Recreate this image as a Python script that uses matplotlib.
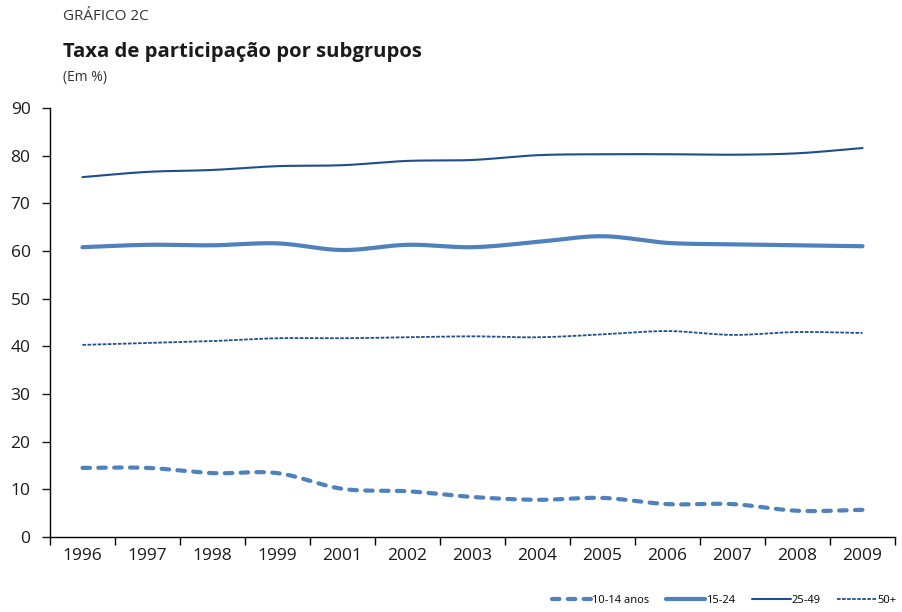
import numpy as np
import matplotlib
matplotlib.use("Agg")
import matplotlib.pyplot as plt
from matplotlib.lines import Line2D

plt.rcParams['font.family'] = ['Open Sans', 'DejaVu Sans']

years = ["1996", "1997", "1998", "1999", "2001", "2002", "2003",
         "2004", "2005", "2006", "2007", "2008", "2009"]
s_10_14 = [14.5, 14.5, 13.4, 13.4, 10.1, 9.6, 8.4, 7.8, 8.2, 6.9, 6.9, 5.5, 5.7]
s_15_24 = [60.8, 61.3, 61.2, 61.6, 60.2, 61.3, 60.8, 61.9, 63.1, 61.7, 61.4, 61.2, 61.0]
s_25_49 = [75.5, 76.6, 77.0, 77.8, 78.0, 78.9, 79.1, 80.1, 80.3, 80.3, 80.2, 80.5, 81.6]
s_50p = [40.3, 40.7, 41.1, 41.7, 41.7, 41.9, 42.1, 41.9, 42.5, 43.2, 42.4, 43.0, 42.8]
labels = ["10-14 anos", "15-24", "25-49", "50+"]

LIGHT = "#4F81BD"
DARK = "#1F4E8C"


def smooth(x, y, n=20):
    """Catmull-Rom spline through the data points (Excel-like smoothing)."""
    x = np.asarray(x, float)
    y = np.asarray(y, float)
    px = np.concatenate([[2 * x[0] - x[1]], x, [2 * x[-1] - x[-2]]])
    py = np.concatenate([[2 * y[0] - y[1]], y, [2 * y[-1] - y[-2]]])
    xs, ys = [], []
    t = np.linspace(0, 1, n, endpoint=False)
    for i in range(1, len(px) - 2):
        p0, p1, p2, p3 = py[i - 1], py[i], py[i + 1], py[i + 2]
        q0, q1, q2, q3 = px[i - 1], px[i], px[i + 1], px[i + 2]
        def cr(a0, a1, a2, a3):
            return 0.5 * ((2 * a1) + (-a0 + a2) * t + (2 * a0 - 5 * a1 + 4 * a2 - a3) * t ** 2
                          + (-a0 + 3 * a1 - 3 * a2 + a3) * t ** 3)
        xs.append(cr(q0, q1, q2, q3))
        ys.append(cr(p0, p1, p2, p3))
    xs.append([x[-1]])
    ys.append([y[-1]])
    return np.concatenate(xs), np.concatenate(ys)


fig = plt.figure(figsize=(9.02, 6.12), dpi=100)
ax = fig.add_axes([50 / 902, 1 - 537 / 612, 845 / 902, (537 - 108) / 612])

x = np.arange(len(years))
styles = [
    dict(color=LIGHT, lw=3.0, linestyle=(0, (1.8, 2.0)), dash_capstyle='round'),
    dict(color=LIGHT, lw=3.0, solid_capstyle='round'),
    dict(color=DARK, lw=1.5, solid_capstyle='round'),
    dict(color=DARK, lw=1.3, linestyle=(0, (2.0, 0.8))),
]
handles = []
for series, st, lab in zip([s_10_14, s_15_24, s_25_49, s_50p], styles, labels):
    sx, sy = smooth(x, series)
    ax.plot(sx, sy, **st)
    handles.append(Line2D([], [], label=lab, **st))

ax.set_xlim(-0.5, len(years) - 0.5)
ax.set_ylim(0, 90)
ax.set_yticks(np.arange(0, 91, 10))
ax.set_xticks(x)
ax.set_xticklabels(years)
ax.set_xticks(np.arange(-0.5, len(years), 1), minor=True)
ax.tick_params(axis='x', which='major', length=0, pad=8, labelsize=12.5, colors='#1a1a1a')
ax.tick_params(axis='x', which='minor', length=6, width=1.0, direction='out', color='black')
ax.tick_params(axis='y', length=6, width=1.0, direction='out', pad=8, labelsize=12.5, colors='#1a1a1a')
for s in ['top', 'right']:
    ax.spines[s].set_visible(False)
for s in ['left', 'bottom']:
    ax.spines[s].set_linewidth(1.0)
    ax.spines[s].set_color('black')

fig.text(63 / 902, 1 - 17 / 612, "GRÁFICO 2C", fontsize=11, color='#333333', va='center', ha='left')
fig.text(63 / 902, 1 - 52 / 612, "Taxa de participação por subgrupos", fontsize=14.6,
         fontweight='bold', color='#1a1a1a', va='center', ha='left')
fig.text(63 / 902, 1 - 78 / 612, "(Em %)", fontsize=10, color='#333333', va='center', ha='left')

fig.legend(handles=handles, loc='lower right', bbox_to_anchor=(1.005, -0.006), ncol=4,
           frameon=False, fontsize=8, handlelength=3.5, handletextpad=0.1, columnspacing=1.5)

fig.savefig("out.png", dpi=100)
